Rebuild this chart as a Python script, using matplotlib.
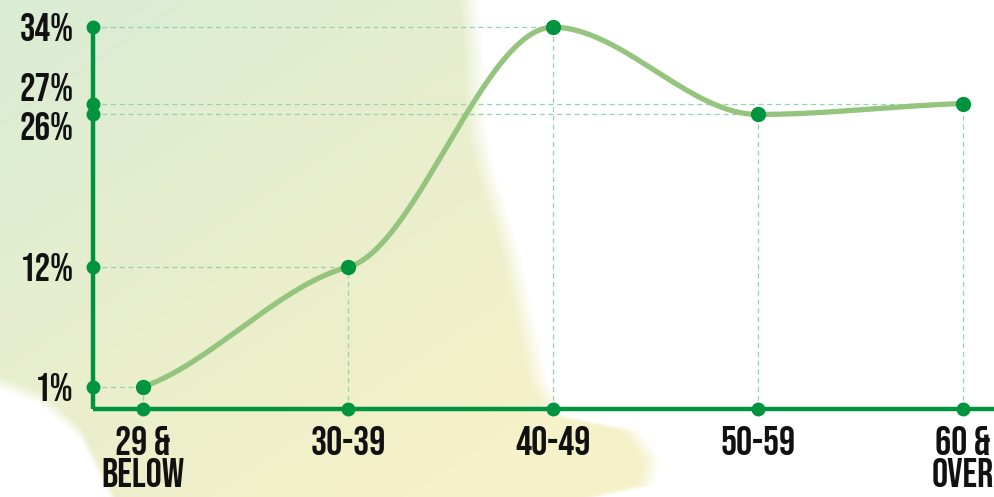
import numpy as np
import matplotlib
matplotlib.use("Agg")
import matplotlib.pyplot as plt
import matplotlib.transforms as mtransforms

# data
categories = ["29 &\nBelow", "30-39", "40-49", "50-59", "60 &\nOver"]
values = [1, 12, 34, 26, 27]
ytick_vals = [1, 12, 26, 27, 34]
ytick_labels = ["1%", "12%", "26%", "27%", "34%"]

DARK = "#00943f"
LIGHT = "#95c47e"
GUIDE = "#8fd6b0"
FONT = ["Bebas Neue", "Oswald", "Anton", "League Gothic", "DejaVu Sans"]

W, H = 994, 497


def smooth_curve(x, y, k=0.3, k_end=0.6, n=60):
    # cubic hermite with flattened monotone tangents (gives the S-shaped look)
    x = np.asarray(x, float)
    y = np.asarray(y, float)
    h = np.diff(x)
    s = np.diff(y) / h
    t = np.zeros(len(x))
    for i in range(1, len(x) - 1):
        p = (s[i - 1] * h[i] + s[i] * h[i - 1]) / (h[i - 1] + h[i])
        t[i] = k * (np.sign(s[i - 1]) + np.sign(s[i])) * min(abs(s[i - 1]), abs(s[i]), 0.5 * abs(p))
    t[0] = k_end * s[0]
    t[-1] = k_end * s[-1]
    xs, ys = [], []
    for i in range(len(x) - 1):
        u = np.linspace(0, 1, n)
        h00 = 2 * u**3 - 3 * u**2 + 1
        h10 = u**3 - 2 * u**2 + u
        h01 = -2 * u**3 + 3 * u**2
        h11 = u**3 - u**2
        xs.append(x[i] + u * h[i])
        ys.append(h00 * y[i] + h10 * h[i] * t[i] + h01 * y[i + 1] + h11 * h[i] * t[i + 1])
    return np.concatenate(xs), np.concatenate(ys)


fig = plt.figure(figsize=(W / 100, H / 100), dpi=100)

# watercolour-ish background on the left
bg = fig.add_axes([0, 0, 1, 1])
yy, xx = np.mgrid[0:H, 0:W]
by = [0, 60, 130, 180, 250, 320, 380, 415, 430, 460, 485, 497]
bx = [478, 484, 486, 498, 520, 535, 548, 565, 640, 662, 655, 600]
edge = np.interp(yy, by, bx)
alpha = np.clip((edge - xx) / 20.0, 0, 1)
# white corner bottom-left
ll = np.interp(xx, [0, 40, 80, 100, 120], [390, 405, 440, 480, 520])
alpha *= np.clip((ll - yy) / 15.0, 0, 1)
tt = np.clip(0.65 * yy / H + 0.45 * xx / 520, 0, 1)[..., None]
c0 = np.array([216, 235, 210]) / 255
c1 = np.array([245, 241, 197]) / 255
rgb = c0 * (1 - tt) + c1 * tt
img = np.dstack([rgb, alpha * 0.95])
bg.imshow(img, extent=[0, W, H, 0], aspect="auto", interpolation="bilinear")
bg.set_xlim(0, W)
bg.set_ylim(H, 0)
bg.axis("off")

ax = fig.add_axes([93 / W, (H - 409) / H, (W - 93) / W, 409 / H])
ax.patch.set_alpha(0)
x = np.arange(len(categories))
ax.set_xlim(-0.244, 4.152)
ax.set_ylim(-1.02, 36.5)

for sp in ["top", "right"]:
    ax.spines[sp].set_visible(False)
for sp in ["left", "bottom"]:
    ax.spines[sp].set_color(DARK)
    ax.spines[sp].set_linewidth(3.2)
    ax.spines[sp].set_capstyle("butt")
ax.spines["left"].set_bounds(-1.02, max(values))

# guides
for xi, v in zip(x, values):
    ax.plot([-0.244, xi], [v, v], ls=(0, (4, 3)), color=GUIDE, lw=0.9, zorder=1)
    ax.plot([xi, xi], [-1.02, v], ls=(0, (4, 3)), color=GUIDE, lw=0.9, zorder=1)

cx, cy = smooth_curve(x, values)
ax.plot(cx, cy, color=LIGHT, lw=3.8, solid_capstyle="round", zorder=3)
ax.plot(x, values, "o", color=DARK, ms=10, zorder=4, clip_on=False)

# markers on axes
ax.plot(np.full(len(ytick_vals), -0.244), ytick_vals, "o", color=DARK, ms=9, zorder=5, clip_on=False)
ax.plot(x, np.full(len(x), -1.02), "o", color=DARK, ms=9, zorder=5, clip_on=False)

ax.set_xticks(x)
ax.set_xticklabels(categories, family=FONT, fontsize=29, linespacing=1.12)
ax.set_yticks(ytick_vals)
ax.set_yticklabels(ytick_labels, family=FONT, fontsize=28)
ax.tick_params(axis="x", length=0, pad=12, colors="#111111")
ax.tick_params(axis="y", length=0, pad=14, colors="#111111")
for lbl in ax.get_yticklabels():
    lbl.set_verticalalignment("center")
# 26% and 27% sit close together; nudge apart like the original
labs = ax.get_yticklabels()
labs[2].set_transform(labs[2].get_transform() + mtransforms.ScaledTranslation(0, -8.6 / 72, fig.dpi_scale_trans))
labs[3].set_transform(labs[3].get_transform() + mtransforms.ScaledTranslation(0, 12 / 72, fig.dpi_scale_trans))

fig.savefig("out.png", dpi=100)
